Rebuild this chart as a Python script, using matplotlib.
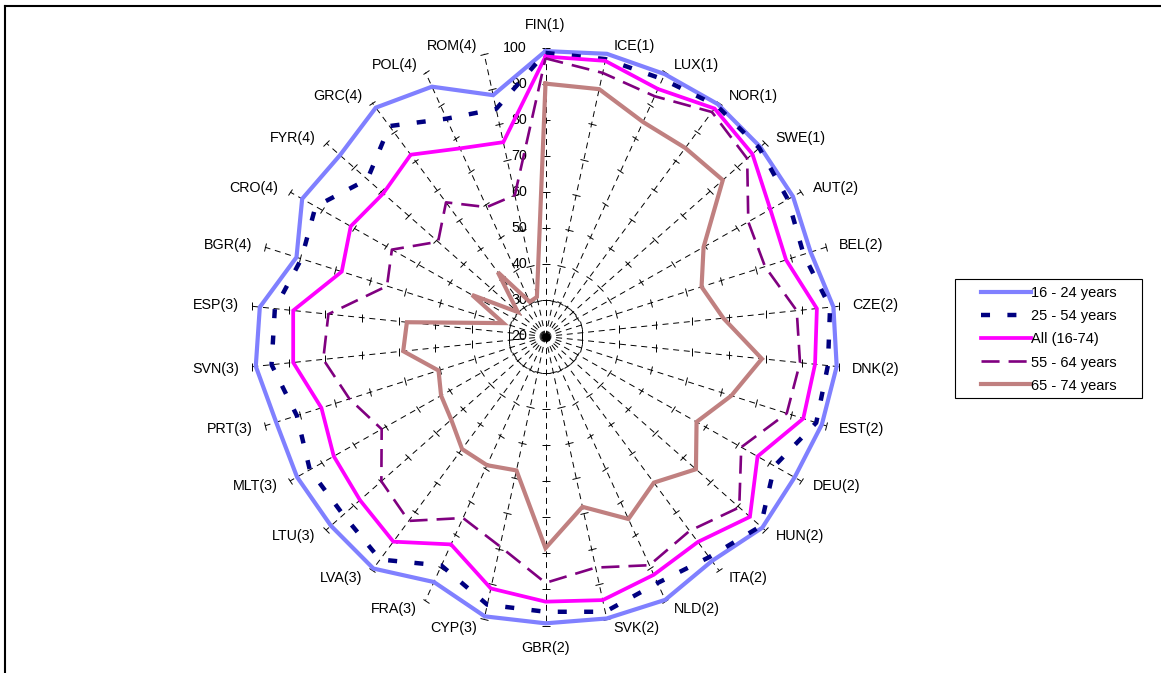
import numpy as np
import matplotlib
matplotlib.use("Agg")
import matplotlib.pyplot as plt
from matplotlib.lines import Line2D
from matplotlib.markers import MarkerStyle
from matplotlib.transforms import Affine2D
from matplotlib.patches import Rectangle

plt.rcParams['font.family'] = ['Liberation Sans', 'DejaVu Sans']
plt.rcParams['lines.scale_dashes'] = False

# categories, clockwise from the top
countries = ['FIN(1)', 'ICE(1)', 'LUX(1)', 'NOR(1)', 'SWE(1)', 'AUT(2)', 'BEL(2)', 'CZE(2)',
             'DNK(2)', 'EST(2)', 'DEU(2)', 'HUN(2)', 'ITA(2)', 'NLD(2)', 'SVK(2)', 'GBR(2)',
             'CYP(3)', 'FRA(3)', 'LVA(3)', 'LTU(3)', 'MLT(3)', 'PRT(3)', 'SVN(3)', 'ESP(3)',
             'BGR(4)', 'CRO(4)', 'FYR(4)', 'GRC(4)', 'POL(4)', 'ROM(4)']

age_16_24 = [99, 100, 99.5, 99.5, 98.4, 97.5, 95.6, 98.5, 99.4, 98.8, 98, 99.1, 96.8, 99.8, 99.8,
             99.4, 99.2, 94.4, 99.4, 98.3, 97.8, 96.8, 99, 97.9, 91, 96.2, 95, 98.3, 95.7, 88.3]
age_25_54 = [98.5, 98.5, 98, 99, 98, 95.9, 93.6, 97.6, 97, 97.2, 91.7, 98.5, 95.5, 94.7, 97.9,
             96.2, 95.9, 89.4, 96.3, 93.8, 93.8, 90.9, 94.7, 93.8, 89.6, 92, 85, 92, 86, 84.4]
age_all = [97.5, 98, 95, 98, 95.5, 90.4, 88.6, 94, 93.5, 93.5, 86.4, 94.6, 90.3, 92.2, 94.6,
           93.4, 91.3, 83, 90.2, 87.7, 86.3, 83.9, 88.8, 88.8, 78.1, 81, 79.2, 82.2, 77, 75]
age_55_64 = [97, 94.6, 92.8, 96.8, 93.6, 83.5, 82.6, 88.5, 89.4, 88.8, 81.3, 90.7, 86.5, 89.3, 85.4,
             88.2, 79.4, 75, 83.1, 79.9, 71.3, 75.9, 80.6, 79.2, 65.2, 68.1, 59.2, 65.9, 59.2, 60]
age_65_74 = [90, 90, 85, 84.5, 84.7, 69.5, 64.5, 68.5, 79, 73, 67.3, 74.9, 70, 75.3, 68.2,
             78.6, 57.9, 59, 58.5, 54.4, 52.7, 50.5, 58.8, 57.8, 32, 43, 30.1, 42, 30.5, 31.2]

r_ticks = [20, 30, 40, 50, 60, 70, 80, 90, 100]

series = [
    ('16 - 24 years', age_16_24, dict(color='#8080FF', lw=3.0)),
    ('25 - 54 years', age_25_54, dict(color='#000080', lw=3.2, dashes=(6.5, 12.5))),
    ('All (16-74)', age_all, dict(color='#FF00FF', lw=2.7)),
    ('55 - 64 years', age_55_64, dict(color='#800080', lw=1.9, dashes=(13, 6.5))),
    ('65 - 74 years', age_65_74, dict(color='#C08080', lw=3.0)),
]

fig = plt.figure(figsize=(11.61, 6.73), dpi=100)
ax = fig.add_axes([250.5 / 1161, 47.5 / 673, 590 / 1161, 578 / 673], projection='polar')
ax.set_aspect('auto')
ax.set_theta_zero_location('N')
ax.set_theta_direction(-1)
ax.set_ylim(20, 100)
ax.grid(False)
ax.set_xticks([])
ax.set_yticks([])
ax.spines['polar'].set_visible(False)

n = len(countries)
theta = np.deg2rad(np.arange(n) * 360.0 / n)

# spokes with cross ticks
for t in theta:
    ax.plot([t, t], [r_ticks[0], r_ticks[-1]], color='k', lw=0.7, dashes=(4.3, 3.4), clip_on=False, zorder=1)
    m = MarkerStyle('_', transform=Affine2D().rotate_deg(-np.rad2deg(t)))
    ax.plot(np.full(len(r_ticks), t), r_ticks, ls='none', marker=m, ms=5.5, mew=0.7,
            color='k', clip_on=False, zorder=1)

handles = []
for name, vals, st in series:
    line, = ax.plot(np.append(theta, theta[0]), np.append(vals, vals[0]), label=name,
                    clip_on=False, zorder=3, solid_joinstyle='miter', **st)
    handles.append(line)

# country labels
for t, lab in zip(theta, countries):
    s, c = np.sin(t), np.cos(t)
    if abs(s) < 0.01:
        ax.annotate(lab, xy=(t, 100), xytext=(0, 22.5 * np.sign(c) * 0.72), textcoords='offset points',
                    ha='center', va='center', fontsize=10.3, annotation_clip=False)
    else:
        dx = (5 + 8 * abs(s)) * np.sign(s)
        dy = 8 * c - (1 if c < 0 else 0)
        ax.annotate(lab, xy=(t, 100), xytext=(dx * 0.72, dy * 0.72), textcoords='offset points',
                    ha='left' if s > 0 else 'right', va='center', fontsize=10.3, annotation_clip=False)

# radial value labels
for v in r_ticks:
    ax.annotate(str(v), xy=(0, v), xytext=(-13.3, 0), textcoords='offset points',
                ha='right', va='center', fontsize=10.3, annotation_clip=False, zorder=2)

# legend
fig.legend(handles=handles, loc='center', bbox_to_anchor=(1048.5 / 1161, 1 - 339.5 / 673),
           frameon=False, fontsize=10.5, handlelength=3.45, handletextpad=0.0,
           labelspacing=0.62, borderpad=0)
fig.add_artist(Rectangle((955 / 1161, 1 - 398 / 673), 187 / 1161, 119 / 673,
                         transform=fig.transFigure, fill=False, edgecolor='k', lw=0.8))

# outer frame
fig.add_artist(Line2D([5 / 1161, 1], [1 - 6 / 673, 1 - 6 / 673], transform=fig.transFigure, color='k', lw=1.5))
fig.add_artist(Line2D([5 / 1161, 5 / 1161], [0, 1 - 6 / 673], transform=fig.transFigure, color='k', lw=1.5))

fig.savefig('out.png', dpi=100)
